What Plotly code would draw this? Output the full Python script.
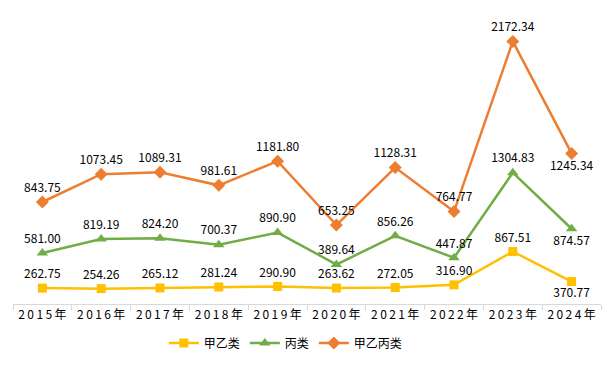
import plotly.graph_objects as go

years = ["2015年", "2016年", "2017年", "2018年", "2019年", "2020年", "2021年", "2022年", "2023年", "2024年"]
tick_labels = ["2\u20090\u20091\u20095\u2009年", "2\u20090\u20091\u20096\u2009年", "2\u20090\u20091\u20097\u2009年",
               "2\u20090\u20091\u20098\u2009年", "2\u20090\u20091\u20099\u2009年", "2\u20090\u20092\u20090\u2009年",
               "2\u20090\u20092\u20091\u2009年", "2\u20090\u20092\u20092\u2009年", "2\u20090\u20092\u20093\u2009年",
               "2\u20090\u20092\u20094\u2009年"]
jiayi = [262.75, 254.26, 265.12, 281.24, 290.90, 263.62, 272.05, 316.90, 867.51, 370.77]
bing = [581.00, 819.19, 824.20, 700.37, 890.90, 389.64, 856.26, 447.87, 1304.83, 874.57]
jiayibing = [843.75, 1073.45, 1089.31, 981.61, 1181.80, 653.25, 1128.31, 764.77, 2172.34, 1245.34]

font = "Noto Sans CJK SC"

def pos():
    p = ["top center"] * len(years)
    p[-1] = "bottom center"
    return p

fig = go.Figure()
series = [
    ("甲乙类", jiayi, "#FFC000", "square", 9),
    ("丙类", bing, "#70AD47", "triangle-up", 10),
    ("甲乙丙类", jiayibing, "#ED7D31", "diamond", 10),
]
for name, vals, color, sym, size in series:
    fig.add_trace(go.Scatter(
        x=years, y=vals, name=name, stackgroup="s", fill="none",
        mode="lines+markers+text",
        line=dict(color=color, width=2.5),
        marker=dict(symbol=sym, size=size, color=color),
        text=[f"{v:.2f}" for v in vals],
        textposition=pos(),
        textfont=dict(family=font, size=12, color="#000000"),
        cliponaxis=False,
    ))

fig.update_layout(
    width=605, height=374,
    margin=dict(l=13, r=4, t=32, b=70),
    paper_bgcolor="white", plot_bgcolor="white",
    font=dict(family=font, size=12, color="#000000"),
    showlegend=True,
    legend=dict(orientation="h", x=0.464, xanchor="center", y=-0.143, yanchor="middle",
                font=dict(family=font, size=12, color="#000000"),
                itemwidth=30, tracegroupgap=0, traceorder="normal"),
    xaxis=dict(type="category", tickmode="array", tickvals=years, ticktext=tick_labels,
               tickangle=0, range=[-0.5, len(years) - 0.5],
               showgrid=False, showline=True, linecolor="#D9D9D9", linewidth=1,
               ticks="outside", tickson="boundaries", ticklen=5, tickcolor="#D9D9D9",
               tickfont=dict(family=font, size=12, color="#000000"), zeroline=False),
    yaxis=dict(range=[0, 4500], visible=False, showgrid=False, zeroline=False),
)

fig.write_html("out.html", config={"displayModeBar": False},
               post_script="document.body.style.margin='0';document.body.style.overflow='hidden';")
